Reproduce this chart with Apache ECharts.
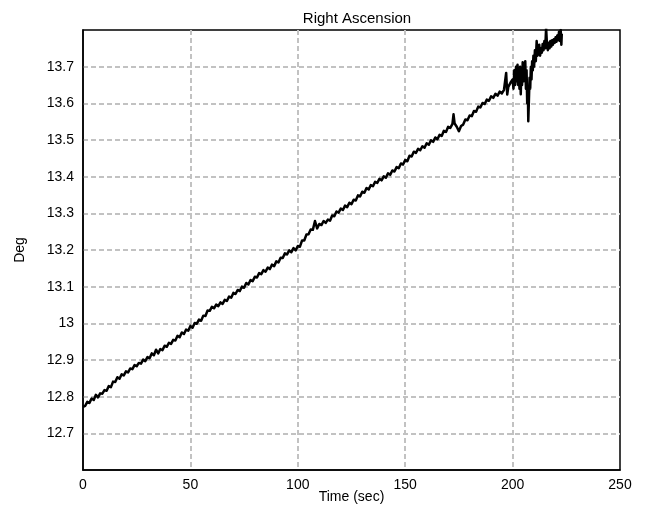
<!DOCTYPE html>
<html>
<head>
<meta charset="utf-8">
<script src="https://cdn.jsdelivr.net/npm/echarts@6/dist/echarts.min.js"></script>
<style>
  html, body { margin: 0; padding: 0; background: #fff; }
  #chart { width: 645px; height: 527px; }
</style>
</head>
<body>
<div id="chart"></div>
<script>
// Right ascension track (degrees) against elapsed time (seconds)
const timeSec = [
  0, 1, 2, 3, 4, 5, 6, 7, 8, 9,
  10, 11, 12, 13, 14, 15, 16, 17, 18, 19,
  20, 21, 22, 23, 24, 25, 26, 27, 28, 29,
  30, 31, 32, 33, 34, 35, 36, 37, 38, 39,
  40, 41, 42, 43, 44, 45, 46, 47, 48, 49,
  50, 51, 52, 53, 54, 55, 56, 57, 58, 59,
  60, 61, 62, 63, 64, 65, 66, 67, 68, 69,
  70, 71, 72, 73, 74, 75, 76, 77, 78, 79,
  80, 81, 82, 83, 84, 85, 86, 87, 88, 89,
  90, 91, 92, 93, 94, 95, 96, 97, 98, 99,
  100, 101, 102, 103, 104, 105, 106, 107, 108, 109,
  110, 111, 112, 113, 114, 115, 116, 117, 118, 119,
  120, 121, 122, 123, 124, 125, 126, 127, 128, 129,
  130, 131, 132, 133, 134, 135, 136, 137, 138, 139,
  140, 141, 142, 143, 144, 145, 146, 147, 148, 149,
  150, 151, 152, 153, 154, 155, 156, 157, 158, 159,
  160, 161, 162, 163, 164, 165, 166, 167, 168, 169,
  170, 171, 172, 172.5, 173, 174, 175, 176, 177, 178, 179,
  180, 181, 182, 183, 184, 185, 186, 187, 188, 189,
  190, 191, 192, 193, 194, 195, 196, 197, 197.5, 198, 199,
  200, 200.4, 200.8, 201.2, 201.6, 202, 202.3, 202.6, 202.9, 203.2,
  203.5, 203.8, 204.1, 204.4, 204.7, 205, 205.3, 205.6, 205.9, 206.2,
  206.5, 206.8, 207.1, 207.3, 207.6, 207.9, 208.2, 208.5, 208.8, 209.1,
  209.4, 209.7, 210, 210.4, 210.8, 211.2, 211.6, 212, 212.4, 212.8,
  213.2, 213.6, 214, 214.4, 214.8, 215.2, 215.6, 216, 216.4, 216.8,
  217.2, 217.6, 218, 218.4, 218.8, 219.2, 219.6, 220, 220.4, 220.8,
  221.2, 221.6, 222, 222.4, 222.7, 222.9
];

const raDeg = [
  12.772, 12.775, 12.786, 12.783, 12.795, 12.791, 12.805, 12.798, 12.809, 12.808,
  12.818, 12.816, 12.829, 12.826, 12.841, 12.840, 12.853, 12.849, 12.861, 12.858,
  12.869, 12.866, 12.877, 12.875, 12.886, 12.883, 12.892, 12.890, 12.901, 12.897,
  12.908, 12.905, 12.918, 12.913, 12.928, 12.918, 12.930, 12.927, 12.939, 12.936,
  12.947, 12.944, 12.955, 12.953, 12.966, 12.962, 12.975, 12.971, 12.983, 12.980,
  12.993, 12.988, 13.001, 12.999, 13.010, 13.007, 13.021, 13.020, 13.035, 13.034,
  13.045, 13.041, 13.051, 13.047, 13.057, 13.053, 13.064, 13.061, 13.073, 13.070,
  13.083, 13.080, 13.091, 13.088, 13.100, 13.097, 13.110, 13.106, 13.118, 13.115,
  13.127, 13.125, 13.137, 13.134, 13.145, 13.141, 13.152, 13.148, 13.160, 13.156,
  13.169, 13.166, 13.179, 13.178, 13.191, 13.188, 13.199, 13.194, 13.205, 13.199,
  13.211, 13.209, 13.226, 13.226, 13.242, 13.243, 13.256, 13.255, 13.279, 13.259,
  13.271, 13.268, 13.279, 13.274, 13.283, 13.280, 13.294, 13.292, 13.305, 13.302,
  13.313, 13.309, 13.321, 13.317, 13.329, 13.325, 13.337, 13.335, 13.349, 13.346,
  13.359, 13.356, 13.369, 13.365, 13.377, 13.374, 13.386, 13.383, 13.394, 13.390,
  13.401, 13.397, 13.409, 13.405, 13.417, 13.414, 13.426, 13.423, 13.436, 13.433,
  13.445, 13.442, 13.457, 13.455, 13.468, 13.465, 13.476, 13.472, 13.483, 13.479,
  13.491, 13.487, 13.499, 13.495, 13.507, 13.502, 13.514, 13.511, 13.525, 13.522,
  13.536, 13.533, 13.544, 13.570, 13.545, 13.536, 13.524, 13.538, 13.542, 13.556, 13.554,
  13.567, 13.565, 13.579, 13.577, 13.591, 13.589, 13.601, 13.598, 13.610, 13.607,
  13.619, 13.615, 13.626, 13.621, 13.632, 13.627, 13.637, 13.683, 13.624, 13.645, 13.656,
  13.665, 13.640, 13.690, 13.650, 13.700, 13.660, 13.705, 13.650, 13.695, 13.640,
  13.700, 13.625, 13.690, 13.650, 13.712, 13.660, 13.705, 13.680, 13.715, 13.640,
  13.690, 13.600, 13.640, 13.551, 13.610, 13.670, 13.640, 13.700, 13.665, 13.715,
  13.690, 13.730, 13.700, 13.745, 13.715, 13.770, 13.730, 13.735, 13.760, 13.730,
  13.750, 13.738, 13.762, 13.745, 13.770, 13.750, 13.805, 13.760, 13.745, 13.765,
  13.750, 13.770, 13.755, 13.772, 13.760, 13.775, 13.765, 13.780, 13.768, 13.785,
  13.772, 13.795, 13.770, 13.800, 13.760, 13.790
];

const xTicks = { min: 0, max: 250, interval: 50 };
const yTicks = { min: 12.6, max: 13.8, interval: 0.1 };

const points = timeSec.map((t, i) => [t, raDeg[i]]);

const FONT = 'Liberation Sans, Arial, sans-serif';
const gridStyle = {
  show: true,
  showMinLine: false,
  showMaxLine: false,
  lineStyle: { color: '#c2c2c2', type: [5, 3], width: 2 }
};

const chart = echarts.init(document.getElementById('chart'), null, { renderer: 'canvas' });
chart.setOption({
  animation: false,
  backgroundColor: '#ffffff',
  title: {
    text: 'Right Ascension',
    left: 352,
    top: 6,
    textAlign: 'center',
    textStyle: { fontFamily: FONT, fontSize: 15, fontWeight: 'normal', color: '#000' }
  },
  grid: { left: 83, right: 25, top: 30, bottom: 57, show: true, borderColor: '#000', borderWidth: 1.5, backgroundColor: 'transparent' },
  xAxis: {
    type: 'value',
    min: xTicks.min, max: xTicks.max, interval: xTicks.interval,
    name: 'Time (sec)',
    nameLocation: 'middle',
    nameGap: 20,
    nameMoveOverlap: false,
    nameTextStyle: { fontFamily: FONT, fontSize: 14, color: '#000', verticalAlign: 'top' },
    axisLine: { show: true, lineStyle: { color: '#000', width: 1.5 } },
    axisTick: { show: false },
    axisLabel: { fontFamily: FONT, fontSize: 14, color: '#000', margin: 8 },
    splitLine: gridStyle
  },
  yAxis: {
    type: 'value',
    min: yTicks.min, max: yTicks.max, interval: yTicks.interval,
    name: 'Deg',
    nameLocation: 'middle',
    nameGap: 56,
    nameRotate: 90,
    nameMoveOverlap: false,
    nameTextStyle: { fontFamily: FONT, fontSize: 14, color: '#000' },
    axisLine: { show: true, lineStyle: { color: '#000', width: 1.5 } },
    axisTick: { show: false },
    axisLabel: {
      fontFamily: FONT, fontSize: 14, color: '#000', margin: 9,
      showMinLabel: false, showMaxLabel: false,
      formatter: v => String(Math.round(v * 10) / 10)
    },
    splitLine: gridStyle
  },
  series: [{
    type: 'line',
    data: points,
    showSymbol: false,
    symbol: 'none',
    clip: true,
    lineStyle: { color: '#000', width: 2.5, join: 'round' }
  }]
});
</script>
</body>
</html>
